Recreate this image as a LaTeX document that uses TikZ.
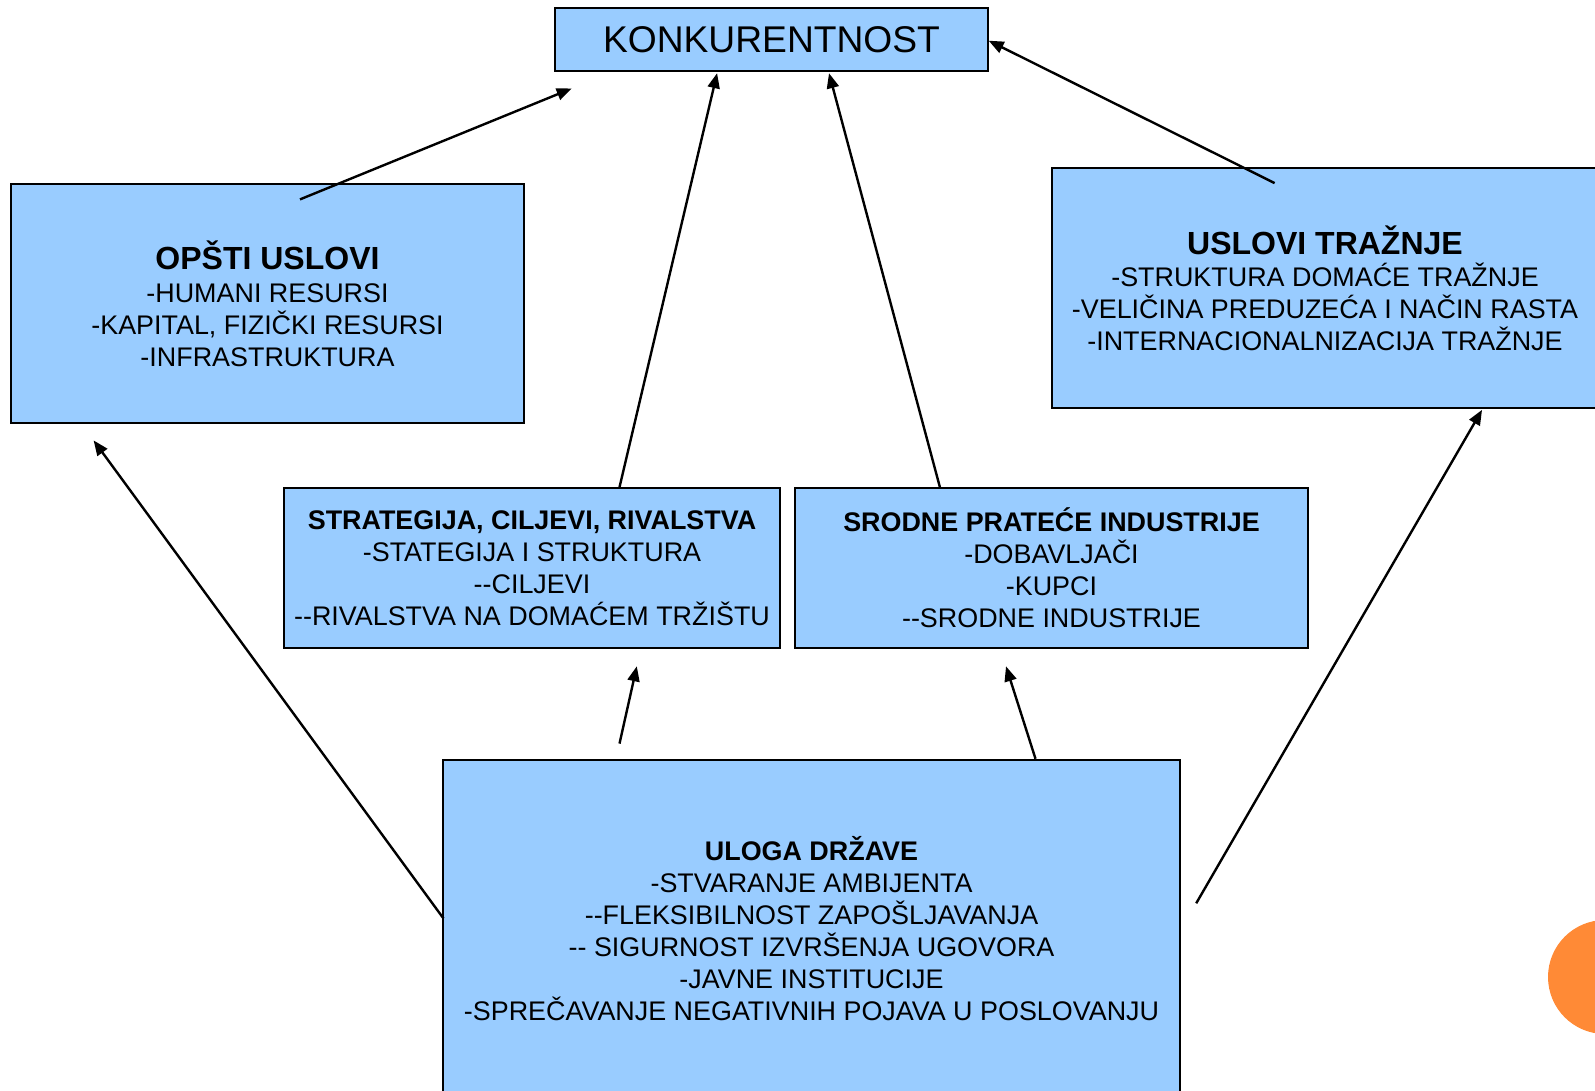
\documentclass[tikz,border=0pt]{standalone}
\usepackage{fontspec}
\setmainfont{Liberation Sans}
\usetikzlibrary{arrows.meta}
\definecolor{boxblue}{HTML}{99CCFF}
\definecolor{dotorange}{HTML}{FF8A36}
\newcommand\twodash{-\kern0pt-}
\begin{document}
\begin{tikzpicture}[x=1pt,y=-1pt,
  box/.style={draw=black,line width=2.2pt,fill=boxblue,inner sep=0pt,align=center,
    font=\fontsize{26.9}{32}\selectfont},
  conn/.style={line width=2.4pt,-{Triangle[length=15pt,width=12pt]}}]
\useasboundingbox (0,0) rectangle (1595,1091);

\node[circle,fill=dotorange,inner sep=0pt,minimum size=114pt] (dot) at (1605,977) {};

\node[box,minimum width=433pt,minimum height=63pt,font=\fontsize{37.2}{40}\selectfont] (konk) at (771.5,39.5) {KONKURENTNOST};

\node[box,minimum width=513pt,minimum height=239pt] (opsti) at (267.5,303.5)
  {{\fontsize{32}{32}\selectfont\bfseries OPŠTI USLOVI}\\[1pt]
   -HUMANI RESURSI\\ -KAPITAL, FIZIČKI RESURSI\\ -INFRASTRUKTURA};

\node[box,minimum width=546pt,minimum height=240pt] (traznja) at (1325,288)
  {{\fontsize{32}{32}\selectfont\bfseries USLOVI TRAŽNJE}\\
   -STRUKTURA DOMAĆE TRAŽNJE\\ -VELIČINA PREDUZEĆA I NAČIN RASTA\\ -INTERNACIONALNIZACIJA TRAŽNJE};

\node[box,minimum width=496pt,minimum height=160pt] (strat) at (532,568)
  {\textbf{STRATEGIJA, CILJEVI, RIVALSTVA}\\ -STATEGIJA I STRUKTURA\\ \twodash CILJEVI\\ \twodash RIVALSTVA NA DOMAĆEM TRŽIŠTU};

\node[box,minimum width=513pt,minimum height=160pt] (srodne) at (1051.5,568)
  {\textbf{SRODNE PRATEĆE INDUSTRIJE}\\ -DOBAVLJAČI\\ -KUPCI\\ \twodash SRODNE INDUSTRIJE};

\node[box,minimum width=737pt,minimum height=337pt] (uloga) at (811.5,928.5)
  {\textbf{ULOGA DRŽAVE}\\ -STVARANJE AMBIJENTA\\ \twodash FLEKSIBILNOST ZAPOŠLJAVANJA\\
   \twodash{} SIGURNOST IZVRŠENJA UGOVORA\\ -JAVNE INSTITUCIJE\\ -SPREČAVANJE NEGATIVNIH POJAVA U POSLOVANJU};

% connector end points
\coordinate (a1s) at (300,199.4);   \coordinate (a1e) at (571.7,88.5);
\coordinate (a2s) at (619.5,487.2); \coordinate (a2e) at (717.1,73.2);
\coordinate (a3s) at (939.9,487.2); \coordinate (a3e) at (829,73.2);
\coordinate (a4s) at (1274.6,183.1);\coordinate (a4e) at (988.7,40.7);
\coordinate (a5s) at (443.5,918.5); \coordinate (a5e) at (93.6,440.4);
\coordinate (a6s) at (619.5,743.6); \coordinate (a6e) at (636.8,666.3);
\coordinate (a7s) at (1035.5,758.8);\coordinate (a7e) at (1006,666.3);
\coordinate (a8s) at (1196.2,903.3);\coordinate (a8e) at (1482,409.9);

\draw[conn] (a1s) -- (a1e);
\draw[conn] (a2s) -- (a2e);
\draw[conn] (a3s) -- (a3e);
\draw[conn] (a4s) -- (a4e);
\draw[conn] (a5s) -- (a5e);
\draw[conn] (a6s) -- (a6e);
\draw[conn] (a7s) -- (a7e);
\draw[conn] (a8s) -- (a8e);
\end{tikzpicture}
\end{document}
